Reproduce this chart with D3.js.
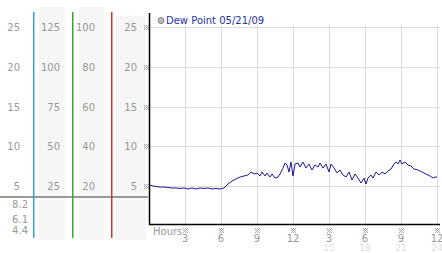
<!DOCTYPE html>
<html>
<head>
<meta charset="utf-8">
<script src="https://cdn.jsdelivr.net/npm/d3@7"></script>
<style>
	body { margin: 0; background: #fff; }
	text { font-family: "DejaVu Sans", Verdana, sans-serif; }
</style>
</head>
<body>
<div id="chart"></div>
<script>
// dew point readings (hour of day, value)
const hours = [0.08, 0.33, 0.58, 0.92, 1.25, 1.58, 1.92, 2.25, 2.58, 2.92, 3.25, 3.58, 3.92, 4.25, 4.58, 4.92,
	5.25, 5.58, 5.92, 6.25, 6.58, 6.92, 7.25, 7.58, 7.92, 8.25, 8.5, 8.75, 9.0, 9.25, 9.42, 9.67, 9.83,
	10.08, 10.25, 10.5, 10.75, 10.92, 11.17, 11.33, 11.5, 11.67, 11.83, 12.0, 12.17, 12.42, 12.58, 12.83,
	13.08, 13.33, 13.58, 13.83, 14.08, 14.25, 14.5, 14.75, 15.0, 15.17, 15.42, 15.67, 15.92, 16.17, 16.42,
	16.67, 16.92, 17.17, 17.42, 17.67, 17.92, 18.08, 18.25, 18.5, 18.67, 18.92, 19.17, 19.42, 19.67, 19.92,
	20.17, 20.42, 20.58, 20.75, 20.92, 21.08, 21.33, 21.58, 21.83, 22.08, 22.42, 22.75, 23.08, 23.42,
	23.67, 23.83, 24.0];
const dewPoint = [5.13, 5.0, 4.94, 4.87, 4.87, 4.81, 4.75, 4.75, 4.69, 4.75, 4.62, 4.75, 4.62, 4.75, 4.69, 4.75,
	4.62, 4.69, 4.62, 4.75, 5.25, 5.63, 5.88, 6.13, 6.26, 6.38, 6.76, 6.51, 6.64, 6.26, 6.76, 6.26, 6.64,
	6.13, 6.51, 6.0, 6.13, 6.51, 7.26, 7.89, 7.64, 6.76, 8.02, 6.26, 7.77, 7.89, 7.39, 8.02,
	7.26, 7.77, 7.01, 7.64, 7.39, 7.89, 7.26, 7.77, 6.76, 7.77, 7.26, 6.64, 7.01, 6.38, 6.13,
	6.76, 5.75, 6.51, 6.0, 5.38, 6.0, 5.25, 6.0, 6.38, 6.0, 6.76, 6.38, 6.76, 6.51, 6.89,
	7.14, 7.77, 8.02, 7.77, 8.27, 7.77, 8.02, 7.64, 7.52, 7.14, 7.01, 6.76, 6.51, 6.26,
	6.0, 6.13, 6.13];

const yTicks = [25, 20, 15, 10, 5];
const xTicks = [3, 6, 9, 12, 15, 18, 21, 24];
const xLabelsTop = ["3", "6", "9", "12", "3", "6", "9", "12"];
const xLabelsBottom = ["", "", "", "", "15", "18", "21", "24"];

// side scale columns
const col1 = [25, 20, 15, 10, 5];
const col2 = [125, 100, 75, 50, 25];
const col3 = [100, 80, 60, 40, 20];
const col4 = [25, 20, 15, 10, 5];
const lowValues = [8.2, 6.1, 4.4];

const title = "Dew Point 05/21/09";

const svg = d3.select("#chart").append("svg")
	.attr("width", 442)
	.attr("height", 253);

// scales
const x = d3.scaleLinear().domain([0, 24]).range([149, 437]);
const y = d3.scaleLinear().domain([5, 25]).range([186, 27]);
const axisY = 224;

// side panel backgrounds
[[39, 7, 26], [79, 7, 25], [115, 16, 31]].forEach(c => {
	svg.append("rect")
		.attr("x", c[0]).attr("y", c[1])
		.attr("width", c[2]).attr("height", 240 - c[1])
		.style("fill", "#f6f6f6");
});

// side panel labels
function sideColumn(values, right) {
	svg.append("g").selectAll("text")
		.data(values)
		.enter().append("text")
		.attr("x", right)
		.attr("y", (d, i) => y(yTicks[i]) + 4)
		.attr("text-anchor", "end")
		.style("font-size", "10px")
		.style("fill", "#999")
		.text(d => d);
}
sideColumn(col1, 20);
sideColumn(col2, 60);
sideColumn(col3, 95);
sideColumn(col4, 137);

svg.append("g").selectAll("text")
	.data(lowValues)
	.enter().append("text")
	.attr("x", 28)
	.attr("y", (d, i) => [208, 223, 234][i])
	.attr("text-anchor", "end")
	.style("font-size", "10px")
	.style("fill", "#999")
	.text(d => d);

// gray divider
svg.append("line")
	.attr("x1", 0).attr("x2", 148)
	.attr("y1", 197).attr("y2", 197)
	.style("stroke", "#999")
	.style("stroke-width", 2);

// coloured scale lines
[[33, "#2fa4e0"], [72, "#33aa33"], [111, "#d03030"]].forEach(c => {
	svg.append("rect")
		.attr("x", c[0]).attr("y", 12)
		.attr("width", 1.5).attr("height", 226)
		.style("fill", c[1]);
});

// grid
svg.append("g").selectAll("line")
	.data(yTicks)
	.enter().append("line")
	.attr("x1", 149).attr("x2", 440)
	.attr("y1", d => Math.round(y(d)) + 0.5)
	.attr("y2", d => Math.round(y(d)) + 0.5)
	.style("stroke", "#dcdcdc");

svg.append("g").selectAll("line")
	.data(xTicks)
	.enter().append("line")
	.attr("x1", d => Math.round(x(d)) + 0.5)
	.attr("x2", d => Math.round(x(d)) + 0.5)
	.attr("y1", 25).attr("y2", axisY)
	.style("stroke", "#dcdcdc");

// small dotted tick marker
function marker(g, cx, cy) {
	[[-2, -2], [0, -2], [2, -2], [-1, -1], [1, -1], [-2, 0], [0, 0], [2, 0], [-1, 1], [1, 1], [-2, 2], [0, 2], [2, 2]]
		.forEach(p => {
			g.append("rect")
				.attr("x", Math.round(cx) + p[0]).attr("y", Math.round(cy) + p[1])
				.attr("width", 1).attr("height", 1)
				.style("fill", "#aaa");
		});
}

const ym = svg.append("g");
yTicks.forEach(d => marker(ym, 146, y(d)));

// axes lines
svg.append("line")
	.attr("x1", 149.5).attr("x2", 149.5)
	.attr("y1", 13).attr("y2", axisY + 1)
	.style("stroke", "#000")
	.style("stroke-width", 1.5);
svg.append("line")
	.attr("x1", 149).attr("x2", 440)
	.attr("y1", axisY + 0.5).attr("y2", axisY + 0.5)
	.style("stroke", "#000")
	.style("stroke-width", 1.5);

// x labels
svg.append("text")
	.attr("x", 153).attr("y", 235)
	.style("font-size", "10px")
	.style("fill", "#999")
	.text("Hours");

const xm = svg.append("g");
xTicks.forEach(d => marker(xm, x(d), 230));

const xl = svg.append("g").selectAll("g")
	.data(xTicks)
	.enter().append("g")
	.attr("transform", d => "translate(" + x(d) + ",0)");
xl.append("text")
	.attr("y", 242)
	.attr("text-anchor", "middle")
	.style("font-size", "10px")
	.style("fill", "#999")
	.text((d, i) => xLabelsTop[i]);
xl.append("text")
	.attr("y", 251)
	.attr("text-anchor", "middle")
	.style("font-size", "9px")
	.style("fill", "#ddd")
	.text((d, i) => xLabelsBottom[i]);

// data line
const line = d3.line()
	.x(d => x(d[0]))
	.y(d => y(d[1]));

svg.append("path")
	.datum(hours.map((h, i) => [h, dewPoint[i]]))
	.attr("d", line)
	.style("fill", "none")
	.style("stroke", "#1a1a99")
	.style("stroke-width", 1);

// legend
svg.append("circle")
	.attr("cx", 161).attr("cy", 20.5).attr("r", 3)
	.style("fill", "#bbb")
	.style("stroke", "#888");
svg.append("text")
	.attr("x", 166).attr("y", 24)
	.style("font-size", "10px")
	.style("fill", "#2233aa")
	.text(title);
</script>
</body>
</html>
